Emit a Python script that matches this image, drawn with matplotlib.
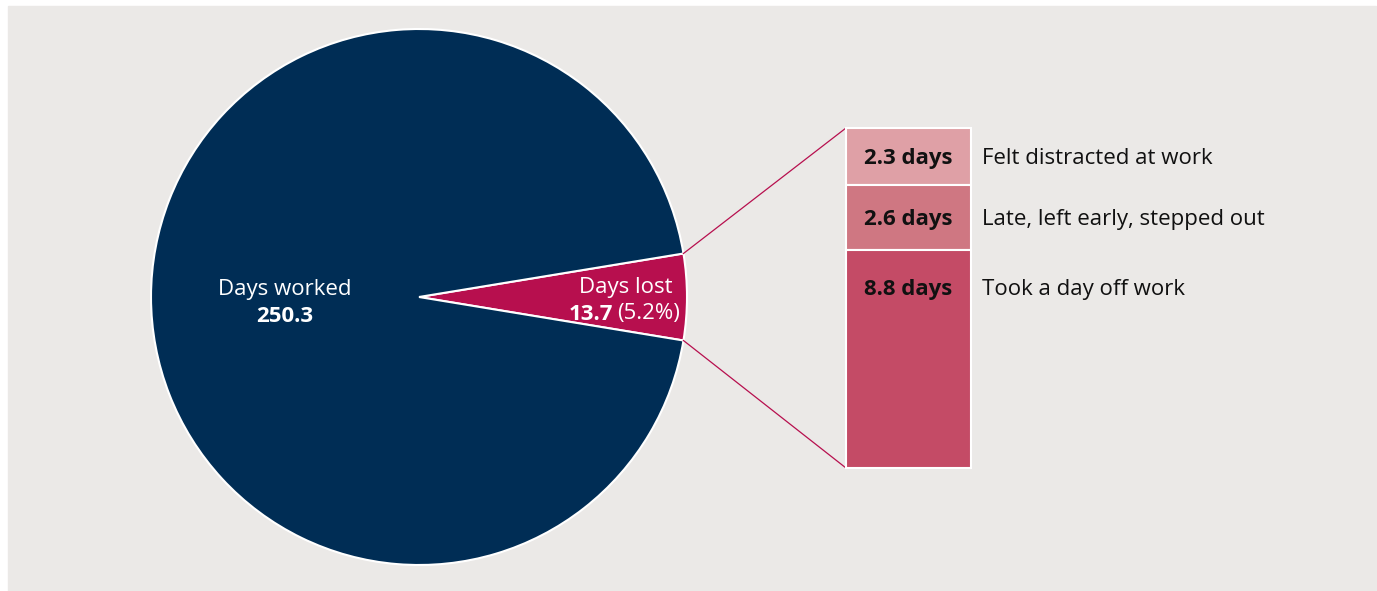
import numpy as np
import matplotlib.pyplot as plt
from matplotlib.patches import Rectangle

plt.rcParams['font.family'] = ['Open Sans', 'DejaVu Sans']

# days in the working year
pie_labels = ["Days lost", "Days worked"]
pie_values = [13.7, 250.3]

# breakdown of the days lost, top to bottom
lost_labels = ["Felt distracted at work", "Late, left early, stepped out", "Took a day off work"]
lost_values = [2.3, 2.6, 8.8]
lost_tags = ["2.3 days", "2.6 days", "8.8 days"]

navy = "#002D55"
crimson = "#B70F4E"
bar_colors = ["#DFA0A6", "#CF7782", "#C44B66"]
bg = "#EBE9E7"
fs = 16

W, H = 1377, 591
fig = plt.figure(figsize=(W / 100, H / 100), dpi=100)
ax = fig.add_axes([0, 0, 1, 1])

# grey panel
ax.add_patch(Rectangle((8, 0), 1368, H - 6, color=bg, zorder=0))

# pie, small slice centred on the right-hand side
cx, cy, r = 419, H - 297, 268
total = sum(pie_values)
half = pie_values[0] / total * 180
wedges, _ = ax.pie(pie_values, colors=[crimson, navy], startangle=-half,
                   center=(cx, cy), radius=r, frame=True,
                   wedgeprops=dict(edgecolor="white", linewidth=1.5))
ax.set_xlim(0, W)
ax.set_ylim(0, H)
ax.set_aspect("equal")
ax.axis("off")

ax.text(285, H - 290, "Days worked", color="white", fontsize=fs,
        ha="center", va="center")
ax.text(285, H - 316, f"{pie_values[1]:.1f}", color="white", fontsize=fs,
        fontweight="bold", ha="center", va="center")
ax.text(626, H - 288, pie_labels[0], color="white", fontsize=fs,
        ha="center", va="center")
pct = pie_values[0] / total * 100
ax.text(613, H - 314, f"{pie_values[0]:.1f}", color="white", fontsize=fs,
        fontweight="bold", ha="right", va="center")
ax.text(617, H - 314, f"({pct:.1f}%)", color="white", fontsize=fs,
        ha="left", va="center")

# stacked bar for the days lost
bx, bw = 846, 125
top = H - 128
scale = 340 / sum(lost_values)
y = top
for val, col, tag, lab in zip(lost_values, bar_colors, lost_tags, lost_labels):
    h = val * scale
    ax.bar(bx, h, width=bw, bottom=y - h, align="edge", color=col,
           edgecolor="white", linewidth=1.5, zorder=2)
    ty = y - min(h / 2, 38) - 2
    ax.text(bx + bw / 2, ty, tag, fontsize=fs, fontweight="bold",
            color="#111111", ha="center", va="center", zorder=3)
    ax.text(982, ty, lab, fontsize=fs, color="#111111",
            ha="left", va="center", zorder=3)
    y -= h
bottom = y

# connector lines from the slice edges to the bar
a = np.deg2rad(half)
ex = cx + r * np.cos(a)
ax.plot([ex, bx], [cy + r * np.sin(a), top], color=crimson, lw=0.9, zorder=1)
ax.plot([ex, bx], [cy - r * np.sin(a), bottom], color=crimson, lw=0.9, zorder=1)

fig.savefig("out.png", dpi=100, facecolor="white")
